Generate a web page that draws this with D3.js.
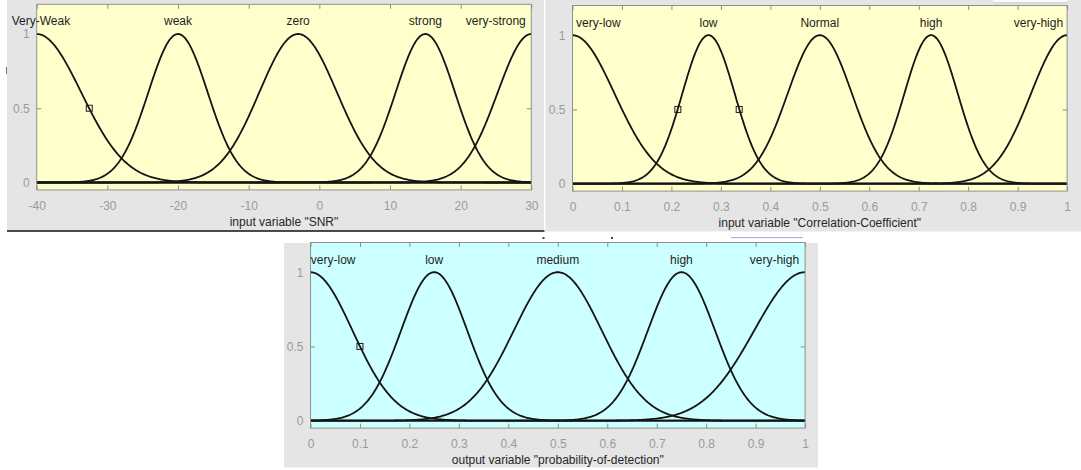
<!DOCTYPE html>
<html>
<head>
<meta charset="utf-8">
<script src="https://cdn.jsdelivr.net/npm/d3@7"></script>
<style>
  html, body { margin: 0; padding: 0; background: #ffffff; }
  svg { display: block; }
  text { font-family: "Liberation Sans", Arial, Helvetica, sans-serif; font-size: 12px; }
</style>
</head>
<body>
<svg id="chart" width="1081" height="470"></svg>
<script>
// ---------- data ----------
const snrTerms   = ["Very-Weak", "weak", "zero", "strong", "very-strong"];
const snrCenters = [-40, -20, -3, 15, 30];
const snrSigmas  = [6.3, 4.2, 5.5, 4.2, 4.75];
const snrTicks   = [-40, -30, -20, -10, 0, 10, 20, 30];
const snrMarkers = [[-32.56, 0.5]];

const corrTerms   = ["very-low", "low", "Normal", "high", "very-high"];
const corrCenters = [0, 0.275, 0.5, 0.725, 1];
const corrSigmas  = [0.085, 0.053, 0.065, 0.054, 0.073];
const corrMarkers = [[0.213, 0.5], [0.337, 0.5]];

const pdTerms   = ["very-low", "low", "medium", "high", "very-high"];
const pdCenters = [0, 0.25, 0.5, 0.75, 1];
const pdSigmas  = [0.085, 0.067, 0.089, 0.068, 0.103];
const pdMarkers = [[0.1, 0.5]];

const unitTicks = [0, 0.1, 0.2, 0.3, 0.4, 0.5, 0.6, 0.7, 0.8, 0.9, 1];
const yTickValues = [0, 0.5, 1];

const titles = ['input variable "SNR"', 'input variable "Correlation-Coefficient"', 'output variable "probability-of-detection"'];

// ---------- drawing ----------
const svg = d3.select("#chart");
const GRAY = "#e5e5e5";

// figure frames (screenshot panels)
svg.append("rect").attr("x", 7).attr("y", 0).attr("width", 537).attr("height", 231).attr("fill", GRAY);
svg.append("rect").attr("x", 545.5).attr("y", 0).attr("width", 535.5).attr("height", 231.5).attr("fill", GRAY);
svg.append("rect").attr("x", 993).attr("y", 0).attr("width", 74).attr("height", 2.5).attr("fill", "#fafafa");
svg.append("line").attr("x1", 993).attr("x2", 1067).attr("y1", 2.8).attr("y2", 2.8).attr("stroke", "#c4c4c4").attr("stroke-width", 0.8);
svg.append("line").attr("x1", 7).attr("x2", 544.5).attr("y1", 231).attr("y2", 231).attr("stroke", "#111").attr("stroke-width", 1.6);
svg.append("line").attr("x1", 6.5).attr("x2", 6.5).attr("y1", 67).attr("y2", 74).attr("stroke", "#777").attr("stroke-width", 1);
svg.append("rect").attr("x", 284).attr("y", 243).attr("width", 534).attr("height", 224.5).attr("fill", GRAY);
svg.append("rect").attr("x", 542.5).attr("y", 237).attr("width", 2).attr("height", 2).attr("fill", "#444");
svg.append("rect").attr("x", 611).attr("y", 237).attr("width", 2).attr("height", 2).attr("fill", "#444");
svg.append("line").attr("x1", 731).attr("x2", 803).attr("y1", 237.6).attr("y2", 237.6).attr("stroke", "#a3a7c6").attr("stroke-width", 1);

const PW = 494.6, PH = 185.6;
const panels = [
  { left: 36.7,  top: 4.3,   domain: [-40, 30], terms: snrTerms,  centers: snrCenters,  sigmas: snrSigmas,  ticks: snrTicks,  markers: snrMarkers,  bg: "#ffffcc", title: titles[0], padL: -25, padR: 5.5 },
  { left: 572.5, top: 5.5,   domain: [0, 1],    terms: corrTerms, centers: corrCenters, sigmas: corrSigmas, ticks: unitTicks, markers: corrMarkers, bg: "#ffffcc", title: titles[1], padL: 3.5, padR: 4 },
  { left: 310.5, top: 242.5, domain: [0, 1],    terms: pdTerms,   centers: pdCenters,   sigmas: pdSigmas,   ticks: unitTicks, markers: pdMarkers,   bg: "#ccffff", title: titles[2], padL: 0.3, padR: 6 }
];

const fmt = v => String(+v.toFixed(2));

panels.forEach(p => {
  const x = d3.scaleLinear().domain(p.domain).range([p.left, p.left + PW]);
  const y = d3.scaleLinear().domain([-0.05, 1.2]).range([p.top + PH, p.top]);
  const g = svg.append("g");

  g.append("rect").attr("x", p.left).attr("y", p.top).attr("width", PW).attr("height", PH)
    .attr("fill", p.bg);

  // ticks inward on all four sides via d3 axes
  const tickLen = 4.5;
  const axB = g.append("g").attr("transform", `translate(0,${p.top + PH})`)
    .call(d3.axisBottom(x).tickValues(p.ticks).tickSize(-tickLen).tickPadding(10).tickFormat(fmt));
  const axT = g.append("g").attr("transform", `translate(0,${p.top})`)
    .call(d3.axisTop(x).tickValues(p.ticks).tickSize(-tickLen).tickFormat(""));
  const axL = g.append("g").attr("transform", `translate(${p.left},0)`)
    .call(d3.axisLeft(y).tickValues(yTickValues).tickSize(-tickLen).tickPadding(7).tickFormat(fmt));
  const axR = g.append("g").attr("transform", `translate(${p.left + PW},0)`)
    .call(d3.axisRight(y).tickValues(yTickValues).tickSize(-tickLen).tickFormat(""));
  [axB, axT, axL, axR].forEach(a => {
    a.select(".domain").remove();
    a.selectAll(".tick line").attr("stroke", "#8c8c8c").attr("stroke-width", 1);
    a.selectAll(".tick text").attr("fill", "#9a9a9a")
      .style("font-family", '"Liberation Sans", Arial, sans-serif').style("font-size", "12px");
  });
  axB.selectAll(".tick text").attr("dy", "0.82em");

  // membership curves
  const n = 500;
  const xs = d3.range(n + 1).map(i => p.domain[0] + (p.domain[1] - p.domain[0]) * i / n);
  const line = d3.line().x(d => x(d[0])).y(d => y(d[1]));
  p.centers.forEach((c, i) => {
    const s = p.sigmas[i];
    const pts = xs.map(v => [v, Math.exp(-((v - c) * (v - c)) / (2 * s * s))]);
    g.append("path").attr("d", line(pts)).attr("fill", "none")
      .attr("stroke", "#141414").attr("stroke-width", 1.8).attr("stroke-linejoin", "round");
  });

  // markers
  p.markers.forEach(m => {
    g.append("rect").attr("x", x(m[0]) - 3).attr("y", y(m[1]) - 3).attr("width", 6).attr("height", 6)
      .attr("fill", "none").attr("stroke", "#1a1a1a").attr("stroke-width", 1);
  });

  // box border
  g.append("rect").attr("x", p.left).attr("y", p.top).attr("width", PW).attr("height", PH)
    .attr("fill", "none").attr("stroke", "#8f8f8f").attr("stroke-width", 1);

  // term labels
  p.terms.forEach((t, i) => {
    const txt = g.append("text").text(t).attr("fill", "#1e1e1e")
      .attr("y", y(1.085)).attr("dominant-baseline", "central").attr("text-anchor", "middle");
    const w = txt.node().getComputedTextLength();
    let cx = x(p.centers[i]);
    if (cx - w / 2 < p.left + p.padL) cx = p.left + p.padL + w / 2;
    if (cx + w / 2 > p.left + PW - p.padR) cx = p.left + PW - p.padR - w / 2;
    txt.attr("x", cx);
  });

  // axis title
  g.append("text").text(p.title).attr("fill", "#262626")
    .attr("x", p.left + PW / 2).attr("y", p.top + PH + 32)
    .attr("text-anchor", "middle").attr("dominant-baseline", "central");
});
</script>
</body>
</html>
